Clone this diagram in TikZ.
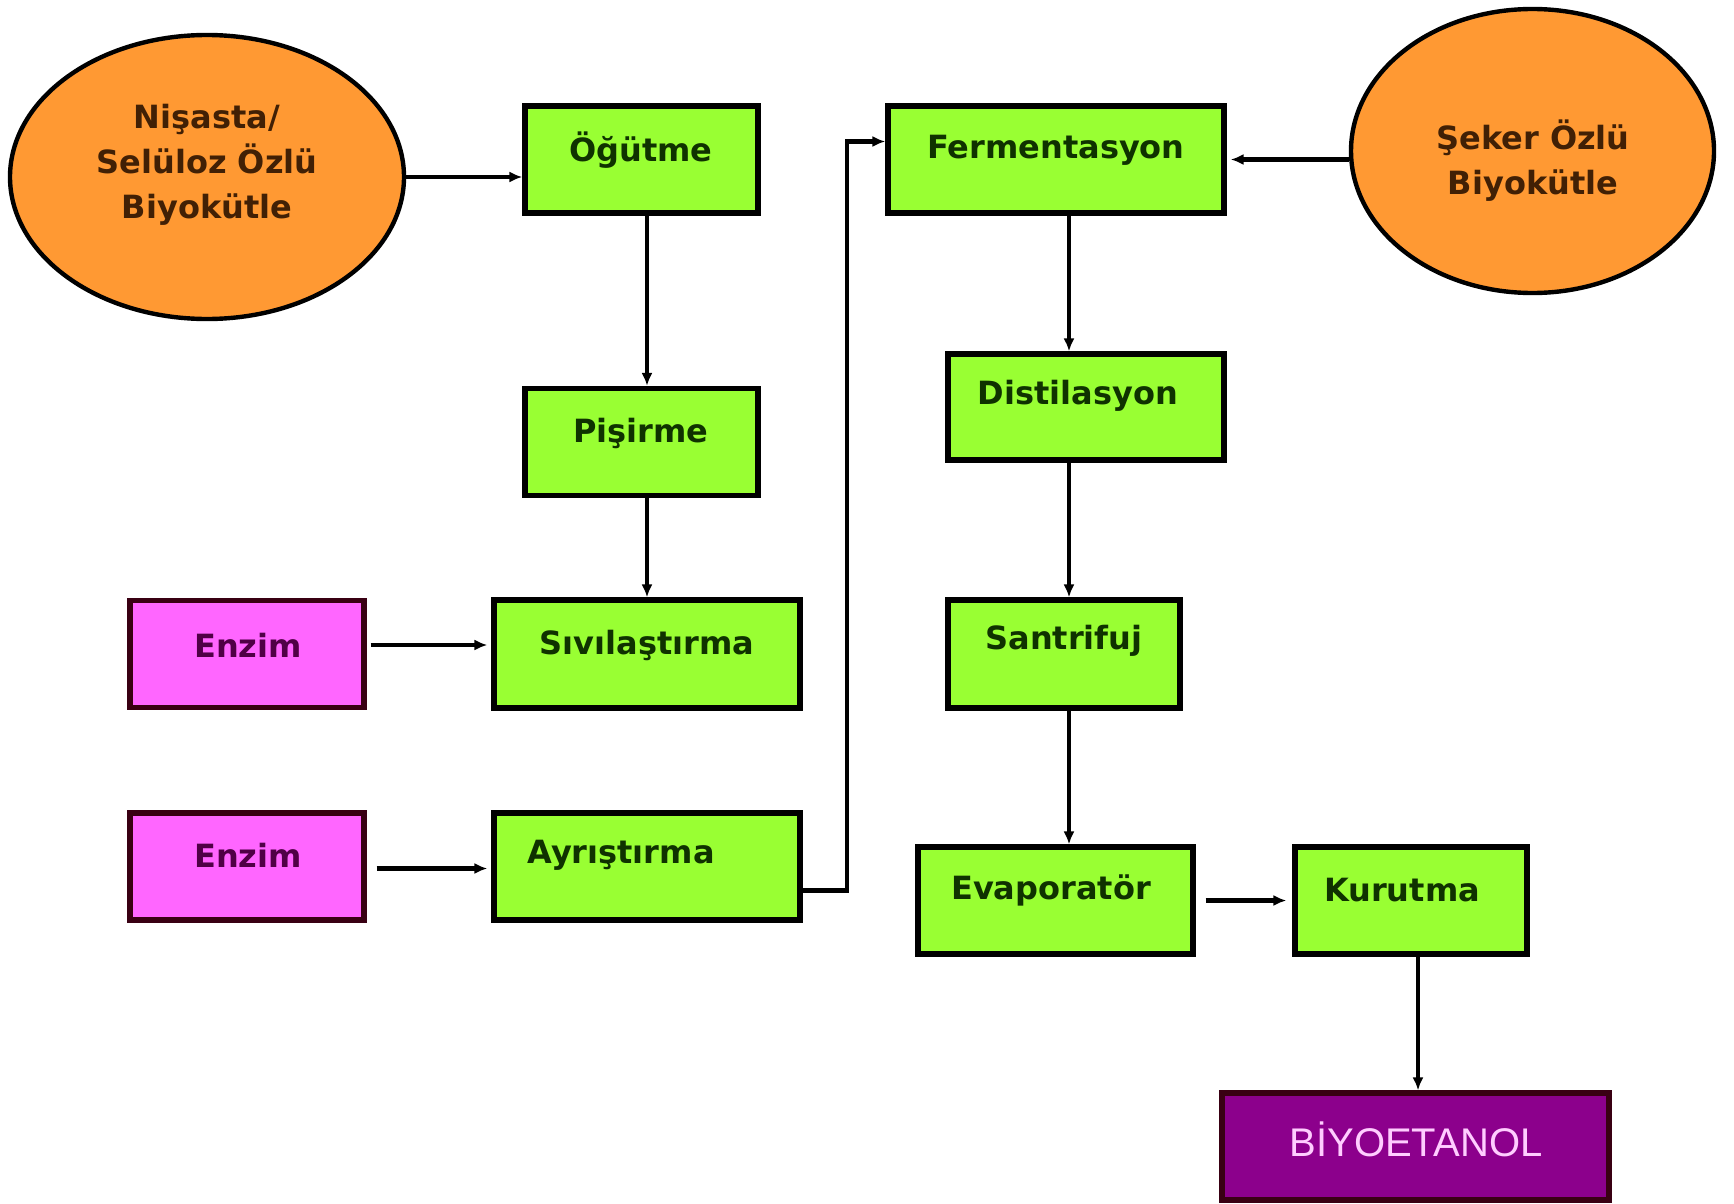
\documentclass[tikz,border=0pt]{standalone}
\usepackage{fontspec}
\setmainfont{DejaVu Sans}
\newfontfamily\arialfont{Liberation Sans}
\usetikzlibrary{shapes.geometric,arrows.meta}
\definecolor{boxgreen}{RGB}{153,255,51}
\definecolor{txtgreen}{RGB}{15,50,0}
\definecolor{orangefill}{RGB}{255,153,51}
\definecolor{txtbrown}{RGB}{65,32,5}
\definecolor{magfill}{RGB}{255,102,255}
\definecolor{txtpurple}{RGB}{80,0,70}
\definecolor{purplefill}{RGB}{140,0,140}
\definecolor{txtpink}{RGB}{255,205,255}
\tikzset{
  greenbox/.style={draw=black, line width=2.6pt, fill=boxgreen, inner sep=0pt, minimum height=53.5pt},
  enzbox/.style={draw=black!70!purple, line width=2.6pt, fill=magfill, inner sep=0pt, minimum width=117pt, minimum height=53.5pt},
  finalbox/.style={draw=black!70!purple, line width=2.6pt, fill=purplefill, inner sep=0pt, minimum width=193.5pt, minimum height=53.5pt},
  bioellipse/.style={ellipse, draw=black, line width=2.2pt, fill=orangefill, inner sep=0pt},
  gtxt/.style={font=\fontsize{16}{19}\selectfont\bfseries, text=txtgreen, inner sep=0pt},
  otxt/.style={font=\fontsize{16}{22.5}\selectfont\bfseries, text=txtbrown, inner sep=0pt, align=center},
  etxt/.style={font=\fontsize{16}{19}\selectfont\bfseries, text=txtpurple, inner sep=0pt},
  ftxt/.style={font=\arialfont\fontsize{20}{24}\selectfont, text=txtpink, inner sep=0pt},
  arr/.style={line width=2.1pt, -{Latex[length=6.5pt,width=5.5pt]}}
}
\begin{document}
\begin{tikzpicture}[x=0.5pt,y=-0.5pt]
\useasboundingbox[fill=white] (0,0) rectangle (1734,1204);

% ellipses
\node[bioellipse, minimum width=197pt, minimum height=142pt] (le) at (207,177) {};
\node[otxt] (le-t) at (207,165) {Nişasta/\\Selüloz Özlü\\Biyokütle};
\node[bioellipse, minimum width=181.5pt, minimum height=142pt] (re) at (1532.5,151) {};
\node[otxt] (re-t) at (1533,161) {Şeker Özlü\\Biyokütle};

% green boxes
\node[greenbox, minimum width=116.5pt] (og) at (641.5,159.5) {};
\node[gtxt] (og-t) at (641,150) {Öğütme};
\node[greenbox, minimum width=116.5pt] (pis) at (641.5,442) {};
\node[gtxt] (pis-t) at (641,433) {Pişirme};
\node[greenbox, minimum width=153pt, minimum height=54pt] (siv) at (647,654) {};
\node[gtxt] (siv-t) at (647,645) {Sıvılaştırma};
\node[greenbox, minimum width=153pt] (ayr) at (647,866.5) {};
\node[gtxt] (ayr-t) at (621,855) {Ayrıştırma};
\node[greenbox, minimum width=168pt] (ferm) at (1056,159.5) {};
\node[gtxt] (ferm-t) at (1056,150) {Fermentasyon};
\node[greenbox, minimum width=138pt, minimum height=53pt] (dist) at (1086,407) {};
\node[gtxt] (dist-t) at (1078,396) {Distilasyon};
\node[greenbox, minimum width=116pt, minimum height=54pt] (sant) at (1064,654) {};
\node[gtxt] (sant-t) at (1064,641) {Santrifuj};
\node[greenbox, minimum width=137.5pt] (evap) at (1055.5,900.5) {};
\node[gtxt] (evap-t) at (1051,890) {Evaporatör};
\node[greenbox, minimum width=116pt] (kur) at (1411,900.5) {};
\node[gtxt] (kur-t) at (1402,890) {Kurutma};

% enzyme boxes
\node[enzbox] (enz1) at (247,654) {};
\node[etxt] (enz1-t) at (248,645) {Enzim};
\node[enzbox] (enz2) at (247,866.5) {};
\node[etxt] (enz2-t) at (248,855) {Enzim};

% final
\node[finalbox] (bio) at (1415.5,1146.5) {};
\node[ftxt] (bio-t) at (1416,1139) {BİYOETANOL};

% connectors
\draw[arr] (le.east) -- (le.east -| og.west);
\draw[arr] ([xshift=2.75pt]og.south) -- ([xshift=2.75pt]og.south |- pis.north);
\draw[arr] ([xshift=2.75pt]pis.south) -- ([xshift=2.75pt]pis.south |- siv.north);
\draw[arr] ([xshift=2pt,yshift=4.5pt]enz1.east) -- ([xshift=-2pt,yshift=4.5pt]enz1.east -| siv.west);
\draw[arr] ([xshift=5pt,yshift=-1pt]enz2.east) -- ([xshift=-2pt,yshift=-1pt]enz2.east -| ayr.west);
\draw[arr] ([yshift=-12pt]ayr.east) -- ++(22pt,0) |- ([yshift=9pt]ferm.west);
\draw[arr] (re.west |- ferm.west) -- ([xshift=2pt]ferm.east);
\draw[arr] ([xshift=6.5pt]ferm.south) -- ([xshift=6.5pt]ferm.south |- dist.north);
\draw[arr] ([xshift=-8.5pt]dist.south) -- ([xshift=-8.5pt]dist.south |- sant.north);
\draw[arr] ([xshift=2.5pt]sant.south) -- ([xshift=2.5pt]sant.south |- evap.north);
\draw[arr] ([xshift=5pt]evap.east) -- ([xshift=-3pt]evap.east -| kur.west);
\draw[arr] ([xshift=3.5pt]kur.south) -- ([xshift=3.5pt]kur.south |- bio.north);
\end{tikzpicture}
\end{document}
